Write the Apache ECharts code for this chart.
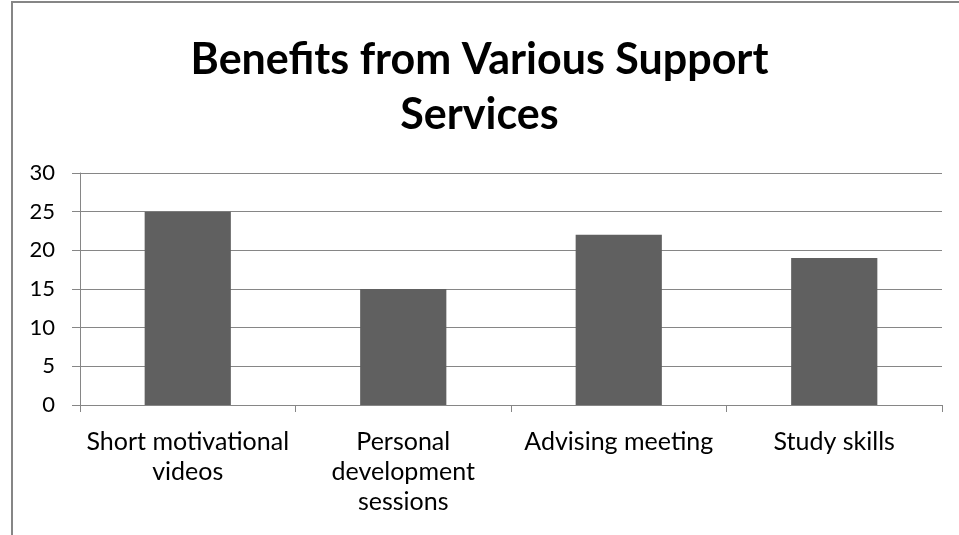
<!DOCTYPE html>
<html>
<head>
<meta charset="utf-8">
<script src="https://cdn.jsdelivr.net/npm/echarts@6/dist/echarts.min.js"></script>
<style>
  html, body { margin: 0; padding: 0; background: #fff; }
  #chart { width: 959px; height: 535px; }
</style>
</head>
<body>
<div id="chart"></div>
<script>
// Support services and the number of respondents who benefited from each
var categories = [
  'Short motivational\nvideos',
  'Personal\ndevelopment\nsessions',
  'Advising meeting',
  'Study skills'
];
var benefitCounts = [25, 15, 22, 19];
var yTicks = { min: 0, max: 30, step: 5 };

var FONT = 'Lato, "Open Sans", sans-serif';
var GRAY = '#868686';

var chart = echarts.init(document.getElementById('chart'), null, { renderer: 'canvas' });
chart.setOption({
  animation: false,
  backgroundColor: '#fff',
  title: {
    text: 'Benefits from Various Support\nServices',
    left: 'center',
    top: 28,
    textStyle: {
      fontFamily: FONT,
      fontWeight: 'bold',
      fontSize: 43,
      lineHeight: 55,
      color: '#000'
    }
  },
  graphic: [
    { type: 'line', shape: { x1: 12, y1: 2, x2: 12, y2: 535 }, style: { stroke: GRAY, lineWidth: 2 } },
    { type: 'line', shape: { x1: 11, y1: 2, x2: 959, y2: 2 }, style: { stroke: GRAY, lineWidth: 2 } }
  ],
  grid: { left: 80, right: 17, top: 173, bottom: 130, containLabel: false },
  xAxis: {
    type: 'category',
    data: categories,
    boundaryGap: true,
    axisLine: { show: true, lineStyle: { color: GRAY, width: 1 } },
    axisTick: { show: true, length: 7, alignWithLabel: false, lineStyle: { color: GRAY } },
    axisLabel: {
      interval: 0,
      margin: 22,
      color: '#000',
      fontFamily: FONT,
      fontSize: 25,
      lineHeight: 30
    },
    splitLine: { show: false }
  },
  yAxis: {
    type: 'value',
    min: yTicks.min,
    max: yTicks.max,
    interval: yTicks.step,
    axisLine: { show: true, lineStyle: { color: GRAY, width: 1 } },
    axisTick: { show: true, length: 8, lineStyle: { color: GRAY } },
    axisLabel: {
      margin: 25,
      color: '#000',
      fontFamily: FONT,
      fontSize: 22
    },
    splitLine: { show: true, lineStyle: { color: GRAY, width: 1 } }
  },
  series: [{
    type: 'bar',
    data: benefitCounts,
    barWidth: '40%',
    itemStyle: { color: '#606060' }
  }]
});
</script>
</body>
</html>
